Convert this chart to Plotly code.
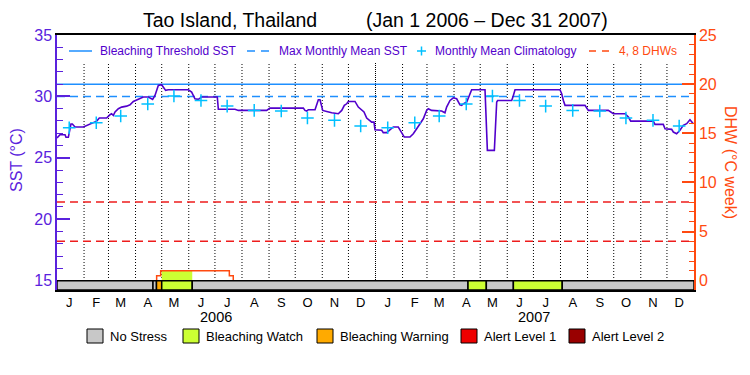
import pandas as pd
import plotly.graph_objects as go

# ---------------- data ----------------
period_start = "2006-01-01"
period_end = "2008-01-01"
title_place = "Tao Island, Thailand"
title_period = "(Jan 1 2006 \u2013 Dec 31 2007)"

# daily SST, read at breakpoints: days since 2006-01-01 and value (deg C)
sst_day = [0, 3.4, 9.2, 10.3, 13, 16, 17.6, 20.6, 30.2, 34, 37.8, 41.6, 45.5, 48.5, 56.9,
           60.7, 62.6, 64.6, 66.5, 70.3, 74.1, 79.8, 83.7, 87.5, 91.3, 95.1, 98.9, 104.7,
           109.6, 112.3, 114.2, 116.1, 119.9, 121.8, 124.5, 127.6, 150.5, 154.3, 158.1,
           161.9, 165.8, 183.7, 184.9, 204, 207.8, 240.3, 244.1, 282.3, 284.2, 286.2, 288,
           295.7, 297.6, 299.5, 301.4, 302.5, 304.5, 309.1, 314.8, 322.4, 326.3, 329.3, 332,
           333.9, 341.5, 345.3, 349.2, 351.8, 354.9, 360.6, 363.3, 364.4, 372.1, 373.9,
           377.8, 381.6, 385.4, 391.1, 395, 398, 404.5, 408.3, 412.2, 416, 419.8, 423.6,
           425.5, 429.3, 440.8, 444.6, 446.5, 450.4, 454.2, 458, 461.8, 463.8, 465.6, 469.5,
           472.2, 475.2, 490.5, 491.3, 492.4, 493.2, 501.2, 502, 503.1, 503.9, 505, 521.1,
           523, 524.9, 576.4, 578.4, 580.3, 582.2, 605.1, 608.9, 631.8, 637.6, 651, 654.8,
           657.5, 683.3, 685.3, 694.8, 696.8, 704.4, 706.3, 710.1, 713.9, 717.7, 721.6,
           725.4, 729.2]
sst_value = [26.61, 26.88, 26.88, 26.67, 26.67, 27.75, 27.75, 27.51, 27.51, 27.64, 27.78,
             27.91, 27.99, 28.24, 28.24, 28.51, 28.59, 28.45, 28.73, 29.0, 29.13, 29.21,
             29.32, 29.59, 29.73, 29.81, 29.95, 29.95, 29.76, 30.08, 30.49, 30.89, 30.95,
             30.76, 30.49, 30.54, 30.54, 30.35, 29.81, 29.76, 29.95, 29.95, 28.95, 28.95,
             28.86, 28.86, 29.05, 29.05, 28.86, 28.81, 28.92, 28.92, 29.27, 29.73, 29.73,
             29.40, 28.86, 28.78, 28.67, 28.59, 28.86, 29.27, 29.40, 29.59, 29.59, 29.13,
             28.92, 28.73, 28.24, 27.91, 27.91, 27.29, 27.24, 27.05, 27.05, 27.29, 27.51,
             27.51, 27.10, 26.69, 26.69, 26.96, 27.37, 27.78, 28.18, 28.86, 29.0, 28.86,
             28.81, 28.67, 29.13, 29.67, 29.89, 29.81, 29.32, 29.27, 29.40, 29.54, 30.08,
             30.54, 30.54, 29.0, 27.37, 25.61, 25.61, 26.96, 28.32, 29.54, 29.67, 29.67,
             30.08, 30.54, 30.54, 30.22, 29.67, 29.27, 29.27, 28.86, 28.86, 28.59, 28.59,
             28.32, 27.99, 27.99, 27.72, 27.72, 27.37, 27.32, 27.10, 26.96, 27.24, 27.64,
             27.78, 28.10, 27.78]

month_initials = ["J", "F", "M", "A", "M", "J", "J", "A", "S", "O", "N", "D"]
year_labels = ["2006", "2007"]
# monthly mean climatology (deg C), Jan..Dec
clim_sst = [27.45, 27.86, 28.40, 29.38, 30.03, 29.67, 29.21, 28.86, 28.81, 28.24, 28.05, 27.59]

bleaching_threshold_sst = 31.0
max_monthly_mean_sst = 30.0
dhw_reference_levels = [4, 8]

# degree heating weeks (step series), days since 2006-01-01
dhw_day = [0, 114.2, 118.8, 197.5, 202.0, 730]
dhw_value = [0, 0.5, 1.0, 0.5, 0, 0]

# bleaching alert periods (start dates, level 0..4)
stress_start = ["2006-01-01", "2006-04-21", "2006-04-25", "2006-05-01", "2006-06-05",
                "2007-04-17", "2007-05-08", "2007-06-08", "2007-08-03"]
stress_level = [0, 0, 2, 1, 0, 1, 0, 1, 0]
stress_names = ["No Stress", "Bleaching Watch", "Bleaching Warning", "Alert Level 1", "Alert Level 2"]

legend_labels = ["Bleaching Threshold SST", "Max Monthly Mean SST",
                 "Monthly Mean Climatology", "4, 8 DHWs"]

# ---------------- styles ----------------
FONT = "Liberation Sans, Arial, sans-serif"
PURPLE = "#5200cc"
AX_PURPLE = "#5a22dd"
BLUE = "#1e8fff"
CYAN = "#00c0ff"
ORANGE_RED = "#ff4a10"
REF_RED = "#ee1c1c"
stress_colors = ["#c8c8c8", "#ccff33", "#ffaa00", "#ee0000", "#990000"]

SST_RANGE = [14.24, 35]
DHW_RANGE = [-0.95, 25]

PL, PR, PT, PB = 57, 694, 35, 290   # plot area in pixels
W, H = 750, 375


def px(x):
    return (x - PL) / (PR - PL)


def py(y):
    return (PB - y) / (PB - PT)


t0 = pd.Timestamp(period_start)
t_end = pd.Timestamp(period_end)
sst_dates = t0 + pd.to_timedelta(sst_day, unit="D")
dhw_dates = t0 + pd.to_timedelta(dhw_day, unit="D")
mid_months = pd.date_range(period_start, periods=24, freq="MS") + pd.Timedelta(days=14)
month_bounds = pd.date_range("2006-02-01", "2007-12-01", freq="MS")

fig = go.Figure()

# reference lines
fig.add_trace(go.Scatter(x=[t0, t_end], y=[bleaching_threshold_sst] * 2, mode="lines",
                         line=dict(color=BLUE, width=1.5), showlegend=False, hoverinfo="skip"))
fig.add_trace(go.Scatter(x=[t0, t_end], y=[max_monthly_mean_sst] * 2, mode="lines",
                         line=dict(color=BLUE, width=1.5, dash="8px,5px"), showlegend=False,
                         hoverinfo="skip"))
for lev in dhw_reference_levels:
    fig.add_trace(go.Scatter(x=[t0, t_end], y=[lev, lev], yaxis="y2", mode="lines",
                             line=dict(color=REF_RED, width=1.5, dash="8px,5px"),
                             showlegend=False, hoverinfo="skip"))

# DHW step line
fig.add_trace(go.Scatter(x=dhw_dates, y=dhw_value, yaxis="y2", mode="lines",
                         line=dict(color=ORANGE_RED, width=1.5, shape="hv"),
                         showlegend=False))

# SST
fig.add_trace(go.Scatter(x=sst_dates, y=sst_value, mode="lines",
                         line=dict(color=PURPLE, width=1.6), showlegend=False))

# climatology crosses
fig.add_trace(go.Scatter(x=mid_months, y=clim_sst * 2, mode="markers",
                         marker=dict(symbol="cross-thin", size=9,
                                     line=dict(color=CYAN, width=1.5)),
                         showlegend=False))

shapes = []
# dotted month boundaries
for d in month_bounds:
    is_year = d.month == 1
    shapes.append(dict(type="line", xref="x", yref="y domain", x0=d, x1=d, y0=0, y1=py(63),
                       line=dict(color="black", width=1, dash="1px,1px" if is_year else "1px,2px"),
                       layer="below"))

# alert fills under the DHW curve + stress bar
stress_end = stress_start[1:] + [period_end]


def dhw_at(ts):
    val = 0
    for d, v in zip(dhw_dates, dhw_value):
        if d <= ts:
            val = v
    return val


for s, e, lvl in zip(stress_start, stress_end, stress_level):
    if lvl > 0:
        top = dhw_at(pd.Timestamp(s))
        shapes.append(dict(type="rect", xref="x", yref="y2", x0=s, x1=e,
                           y0=DHW_RANGE[0], y1=max(top, 0), fillcolor=stress_colors[lvl],
                           line=dict(width=0), layer="below"))
for s, e, lvl in zip(stress_start, stress_end, stress_level):
    shapes.append(dict(type="rect", xref="x", yref="y2", x0=s, x1=e,
                       y0=DHW_RANGE[0], y1=0, fillcolor=stress_colors[lvl],
                       line=dict(color="black", width=1.5), layer="above"))


def note(text, x, y, size, color, xanchor="center", angle=0, xref="paper"):
    return dict(text=text, x=x, y=y, xref=xref, yref="paper", xanchor=xanchor,
                yanchor="middle", textangle=angle, showarrow=False,
                font=dict(family=FONT, size=size, color=color))


annotations = []
# title
annotations.append(note(title_place + "\u00a0" * 9 + title_period, px(375), py(20), 19.5, "black"))
# axis titles
annotations.append(note("SST (\u00b0C)", px(16), py(160), 16, AX_PURPLE, angle=-90))
annotations.append(note("DHW (\u00b0C week)", px(731), py(162), 16, ORANGE_RED, angle=90))
# year labels
for yr in year_labels:
    annotations.append(note(yr, f"{yr}-07-02", py(317), 14.5, "black", xref="x"))

# top legend (drawn)
LY = py(51)
shapes.append(dict(type="line", xref="paper", yref="paper", x0=px(69), x1=px(92), y0=LY, y1=LY,
                   line=dict(color=BLUE, width=1.5)))
shapes.append(dict(type="line", xref="paper", yref="paper", x0=px(247), x1=px(271), y0=LY, y1=LY,
                   line=dict(color=BLUE, width=1.5, dash="8px,6px")))
shapes.append(dict(type="line", xref="paper", yref="paper", x0=px(417), x1=px(426), y0=LY, y1=LY,
                   line=dict(color=CYAN, width=1.5)))
shapes.append(dict(type="line", xref="paper", yref="paper", x0=px(421.5), x1=px(421.5),
                   y0=py(46.5), y1=py(55.5), line=dict(color=CYAN, width=1.5)))
shapes.append(dict(type="line", xref="paper", yref="paper", x0=px(589), x1=px(609), y0=LY, y1=LY,
                   line=dict(color=ORANGE_RED, width=1.5, dash="7px,6px")))
legend_text_x = [98, 277, 433, 617]
legend_text_col = [PURPLE, PURPLE, PURPLE, ORANGE_RED]
for lab, lx, lc in zip(legend_labels, legend_text_x, legend_text_col):
    annotations.append(note(lab, px(lx), LY, 12, lc, xanchor="left"))

# bottom legend (drawn)
box_left = [87, 183, 317, 461, 569]
for name, col, bx in zip(stress_names, stress_colors, box_left):
    shapes.append(dict(type="rect", xref="paper", yref="paper", x0=px(bx), x1=px(bx + 16),
                       y0=py(343), y1=py(329), fillcolor=col, line=dict(color="black", width=1)))
    annotations.append(note(name, px(bx + 21), py(336), 13, "black", xanchor="left"))

fig.update_layout(
    width=W, height=H,
    margin=dict(l=PL, r=W - PR, t=PT, b=H - PB, pad=0),
    plot_bgcolor="white", paper_bgcolor="white",
    showlegend=False,
    shapes=shapes, annotations=annotations,
    xaxis=dict(type="date", range=[t0, t_end], showgrid=False, zeroline=False,
               tickmode="array", tickvals=mid_months, ticktext=month_initials * 2,
               ticks="", ticklen=0, tickfont=dict(family=FONT, size=13, color="black"),
               showline=True, linecolor="black", linewidth=1.5, mirror=True),
    yaxis=dict(range=SST_RANGE, tick0=0, dtick=5, showgrid=False, zeroline=False,
               ticks="inside", ticklen=13, tickwidth=1.5, tickcolor=AX_PURPLE,
               minor=dict(ticks="inside", ticklen=6, dtick=1, tickcolor=AX_PURPLE, tickwidth=1.2),
               showline=True, linecolor=AX_PURPLE, linewidth=1.5,
               tickfont=dict(family=FONT, size=16, color=AX_PURPLE)),
    yaxis2=dict(range=DHW_RANGE, overlaying="y", side="right", tick0=0, dtick=5,
                showgrid=False, zeroline=False,
                ticks="inside", ticklen=12, tickwidth=1.5, tickcolor=ORANGE_RED,
                minor=dict(ticks="inside", ticklen=5, dtick=1, tickcolor=ORANGE_RED, tickwidth=1.2),
                showline=True, linecolor=ORANGE_RED, linewidth=1.5,
                tickfont=dict(family=FONT, size=16, color=ORANGE_RED)),
)

fig.write_html("out.html", config={"displayModeBar": False},
               post_script="document.body.style.margin='0px';")
